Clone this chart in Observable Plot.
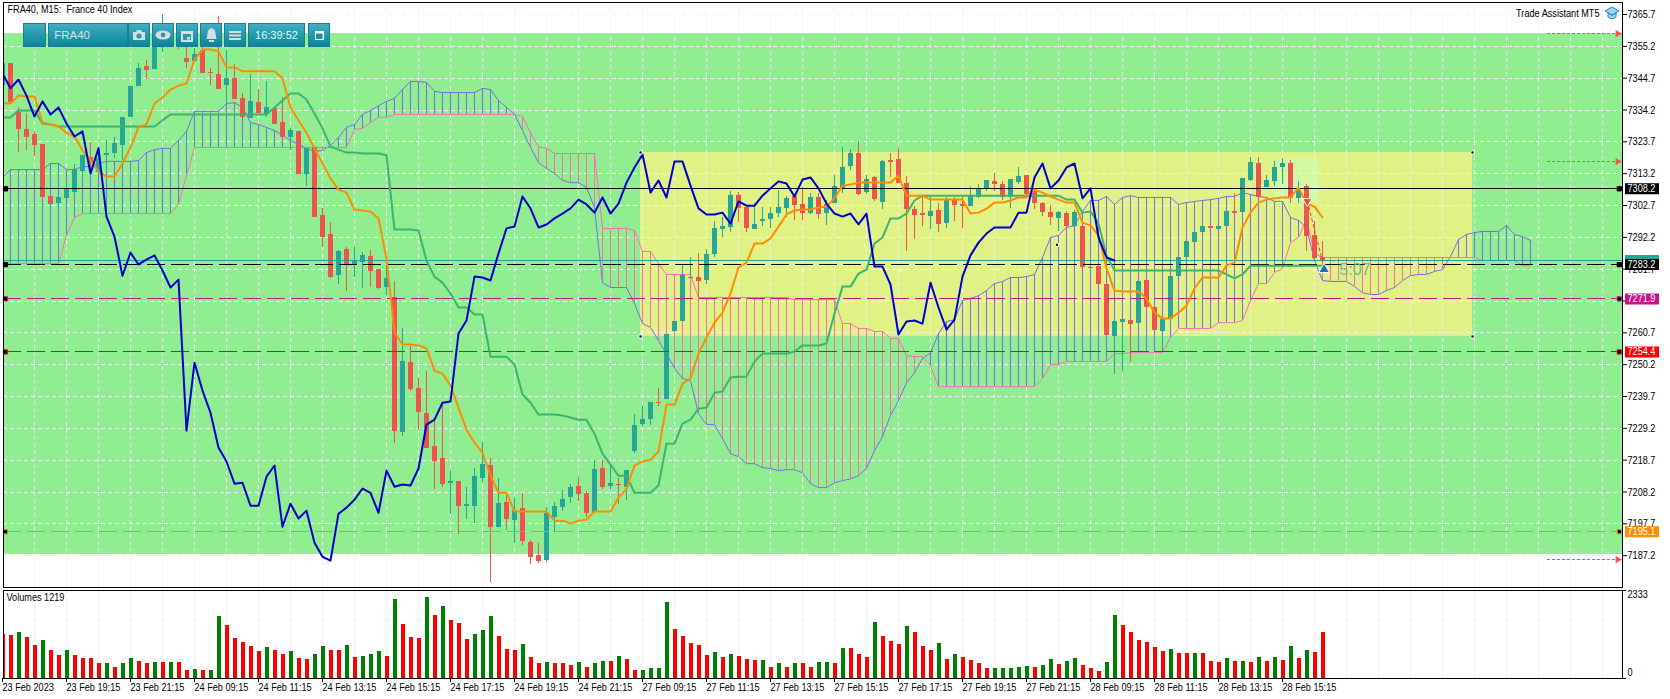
<!DOCTYPE html>
<html>
<head>
<meta charset="utf-8">
<script src="https://cdn.jsdelivr.net/npm/d3@7"></script>
<script src="https://cdn.jsdelivr.net/npm/@observablehq/plot@0.6"></script>
<style>
html,body{margin:0;padding:0;background:#fff;width:1670px;height:699px;overflow:hidden}
#main,#vol{position:absolute;left:0}
#main{top:0}#vol{top:589px}
svg{display:block}
#bar{position:absolute;left:23px;top:23px;width:308px;height:24px;font-family:"Liberation Sans",sans-serif;color:#dff}
#bar div{position:absolute;top:0;height:22px;background:linear-gradient(#3fb0c2,#0b8499);border:1px solid #1c7d92;display:flex;align-items:center;justify-content:center;box-sizing:content-box;font-size:11.5px}
#cap{position:absolute;left:1604px;top:6px}
</style>
</head>
<body>
<div id="main"></div>
<div id="vol"></div>
<div id="bar">
<div style="left:0;width:21px"></div>
<div style="left:25px;width:76px;justify-content:flex-start;padding-left:2px;color:#cfe8ea">&nbsp;FRA40</div>
<div style="left:105px;width:20px"><svg width="14" height="12"><path d="M1 3h3l1-2h4l1 2h3v8H1z" fill="#d5dfe0"/><circle cx="7" cy="7" r="2.6" fill="#2a9aac"/></svg></div>
<div style="left:129px;width:20px"><svg width="16" height="10"><ellipse cx="8" cy="5" rx="7.5" ry="4.5" fill="#d5dfe0"/><circle cx="8" cy="5" r="2.4" fill="#2a9aac"/></svg></div>
<div style="left:153px;width:20px"><svg width="12" height="13"><path d="M0 2h12v11H0z" fill="#d5dfe0"/><path d="M2 5h8v6H2z" fill="#2a9aac"/><path d="M6 8h3v2.500H6z" fill="#d5dfe0"/></svg></div>
<div style="left:177px;width:20px"><svg width="13" height="14"><path d="M6.500 0c3 1 4 3 4 6l1 5H1.500l1-5c0-3 1-5 4-6zM4 12h5v2H4z" fill="#d5dfe0"/></svg></div>
<div style="left:201px;width:20px"><svg width="12" height="9"><path d="M0 0h12v2H0zM0 3.500h12v2H0zM0 7h12v2H0z" fill="#d5dfe0"/></svg></div>
<div style="left:225px;width:55px;font-size:11px">16:39:52</div>
<div style="left:285px;width:20px"><svg width="9" height="9"><path d="M0 0h9v9H0z" fill="#fff"/><path d="M1 2.500h6.500V8H1z" fill="#1a8ea3"/></svg></div>
</div>
<svg id="cap" width="16" height="14"><path d="M8 1L15 5 8 9 1 5z" fill="#9fd4f0" stroke="#2a7fc0"/><path d="M4 7v4c2 2 6 2 8 0V7L8 9.500z" fill="#9fd4f0" stroke="#2a7fc0"/></svg>
<script>
const tickPrices=[7365.7,7355.2,7344.7,7334.2,7323.7,7313.2,7302.7,7292.2,7281.7,7271.2,7260.7,7250.2,7239.7,7229.2,7218.7,7208.2,7197.7,7187.2];
const axisBars=[0,8,16,24,32,40,48,56,64,72,80,88,96,104,112,120,128,136,144,152,160];
const axisLabels=["23 Feb 2023","23 Feb 19:15","23 Feb 21:15","24 Feb 09:15","24 Feb 11:15","24 Feb 13:15","24 Feb 15:15","24 Feb 17:15","24 Feb 19:15","24 Feb 21:15","27 Feb 09:15","27 Feb 11:15","27 Feb 13:15","27 Feb 15:15","27 Feb 17:15","27 Feb 19:15","27 Feb 21:15","28 Feb 09:15","28 Feb 11:15","28 Feb 13:15","28 Feb 15:15"];

const open=[7341.6,7348.9,7332.7,7327.1,7325.5,7322.2,7305,7302.7,7304.4,7306.3,
7313.3,7317.9,7312.9,7318.6,7319.2,7321.9,7331.1,7341.3,7347.9,7346.9,
7354.9,7358.5,7360.5,7350.6,7349.6,7353.2,7345.9,7345.3,7341.6,7344,
7337.4,7330.8,7336,7332.1,7334,7329.4,7324.5,7326.5,7312.3,7321.2,
7298.8,7292.5,7278.9,7287.5,7282.6,7283.2,7285.2,7280.9,7275,7271.7,
7227.1,7250.2,7241.7,7233.4,7222.5,7218.6,7210.3,7211,7202.7,7202.7,
7211.9,7216.3,7195.8,7204,7198.1,7202.1,7190.8,7186.5,7184.9,7199.1,
7202.4,7205.7,7209.3,7207,7200.7,7215.3,7209.3,7210,7209,7220.9,
7229.8,7231.4,7237,7238,7260.5,7263.8,7278,7278.3,7277.3,7285.9,
7294.1,7294.8,7305.3,7301.4,7294.1,7296.8,7297.4,7299.4,7301.1,7305,
7302.4,7299.4,7304.7,7299.4,7302.7,7307.7,7314.9,7319.2,7306.3,7311.3,
7303,7316.9,7317.2,7309.3,7300.7,7299.4,7298.4,7300.4,7296.1,7303.7,
7302.4,7301.7,7304.7,7307.3,7310,7309,7304.7,7309.6,7311.9,7307,
7302.7,7299.7,7297.8,7299.4,7295.1,7295.1,7281.3,7281.9,7276,7258.8,
7263.4,7264.1,7263.1,7277.3,7268.4,7260.5,7264.4,7278.6,7284.9,7289.8,
7293.1,7295.1,7294.1,7295.1,7300.1,7299.7,7310.3,7315.9,7308,7310,
7314.6,7315.9,7304.4,7308.3,7292.2,7284.9];
const close=[7348.9,7336,7327.1,7324.5,7321.9,7304.7,7302.4,7304.7,7307.3,7313.9,
7318.6,7315.9,7317.6,7319.2,7322.5,7331.1,7341.3,7347.3,7346.6,7354.5,
7358.8,7360.5,7356.5,7349.2,7351.9,7345.6,7345.6,7340.3,7344,7337,
7331.1,7336.4,7332.4,7334.4,7328.8,7324.5,7326.8,7312.3,7320.9,7298.1,
7291.5,7278.3,7286.9,7282.6,7283.6,7285.6,7280.3,7274.7,7278,7227.5,
7250.6,7241.3,7233.7,7221.9,7217.6,7210,7211,7202.7,7203.4,7212.6,
7216.6,7195.8,7203.7,7198.4,7201.4,7191.2,7185.9,7184.6,7200.4,7202.7,
7205,7209,7206.7,7200.4,7214.9,7209,7210.3,7209.7,7214.6,7229.4,
7231.4,7237,7236.7,7259.5,7263.8,7278.9,7278.3,7276.9,7285.9,7294.5,
7295.1,7305.3,7301.1,7294.5,7295.8,7297.4,7299.4,7301.4,7304.4,7302,
7299.4,7304.7,7299.1,7302.4,7308.3,7314.6,7319.2,7305.7,7310.6,7304,
7316.6,7316.2,7309.3,7300.7,7298.8,7298.8,7300.1,7295.8,7303.7,7302,
7301.7,7305,7307.3,7310.3,7309,7304.7,7310.6,7311.6,7305.7,7302.7,
7299.7,7298.1,7299.7,7295.1,7299.7,7281.6,7281.6,7276,7259.2,7263.8,
7264.4,7262.8,7276.9,7268.4,7260.8,7264.4,7278.6,7284.9,7290.2,7293.1,
7295.1,7294.5,7295.1,7300.1,7299.4,7311,7316.2,7304.7,7310.3,7314.6,
7315.9,7304.4,7307,7291.8,7284.6,7283.6];
const high=[7349.9,7348.9,7334.4,7332.4,7326.5,7322.2,7305,7304.7,7309.6,7315.6,
7318.6,7322.8,7321.2,7323.5,7324.5,7331.1,7341.3,7348.9,7349.9,7354.5,
7365.1,7360.5,7361.1,7354.5,7353.9,7354.2,7347.3,7364.4,7353.2,7348.6,
7339,7345.3,7340.3,7343,7334.4,7337.7,7327.5,7326.5,7320.9,7321.2,
7301.1,7296.4,7287.2,7288.2,7288.2,7286.5,7287.2,7280.9,7282.2,7276.9,
7261.5,7255.5,7245,7247.3,7230.8,7236.7,7214.3,7211,7209,7215.3,
7223.8,7218.6,7211.9,7207,7205.4,7207,7191.5,7190.5,7202.4,7204,
7208,7210,7212.3,7207.7,7217.9,7217.9,7215.9,7211.9,7214.6,7233.1,
7235.7,7237,7241.7,7259.5,7263.8,7282.2,7284.9,7286.2,7287.5,7296.8,
7298.1,7306.7,7306.3,7301.4,7302.7,7301.4,7301.4,7307,7305,7305.7,
7308,7306,7306,7303.7,7311.9,7321.2,7320.5,7323.2,7311.9,7311.6,
7316.9,7319.2,7320.9,7311.6,7301.7,7304.7,7305,7302.7,7304.7,7304.7,
7304.7,7308.3,7309,7310.3,7312.6,7310,7310.6,7314.6,7311.9,7307.7,
7303,7302,7300.1,7300.1,7300.4,7295.1,7281.6,7281.9,7276,7263.8,
7264.4,7264.1,7276.9,7277.3,7268.4,7264.4,7278.6,7284.9,7290.2,7293.1,
7295.1,7295.1,7295.1,7300.1,7306,7311,7317.9,7317.9,7311.9,7316.6,
7317.6,7316.9,7310,7309,7296.8,7290.2];
const low=[7341.6,7336,7319.5,7320.2,7318.2,7304.7,7302.4,7302.7,7304.4,7306.3,
7310.3,7312.6,7312,7313.6,7317.6,7316.9,7331.1,7341.3,7343.6,7346.9,
7352.5,7358.5,7353.5,7347.3,7349.2,7345.6,7341.6,7340.3,7335.7,7337,
7331.1,7330.8,7332.4,7331.1,7328.8,7324.5,7320.2,7312.3,7308.3,7298.1,
7288.2,7278,7276,7273.7,7278.3,7274.7,7275,7274.3,7272.3,7223.5,
7225.8,7240.7,7227.8,7221.9,7208.3,7209,7200.1,7193.5,7198.4,7197.1,
7210.6,7177.6,7195.8,7194.8,7190.5,7189.9,7183.6,7183.9,7184.2,7194.1,
7201.1,7203.7,7204.4,7199.1,7200.4,7208.3,7208.3,7203.4,7204.7,7220.2,
7229.1,7229.4,7235.7,7238,7260.5,7263.8,7278,7271.7,7276,7284.9,
7291.5,7293.1,7296.4,7293.1,7294.1,7295.1,7294.5,7298.1,7298.1,7297.1,
7297.1,7299.1,7297.4,7295.4,7302.7,7306,7313.6,7305.3,7305.7,7303.4,
7300.7,7311.3,7309.3,7286.9,7290.8,7295.1,7294.1,7293.1,7294.5,7296.8,
7294.5,7301.7,7304.4,7306.7,7306.7,7303.7,7301.1,7309,7304.4,7300.7,
7298.4,7295.4,7293.4,7294.8,7294.8,7281.6,7281.3,7276,7259.2,7246.3,
7247.3,7250.2,7263.1,7268.4,7260.8,7254.2,7264.4,7278.6,7284.9,7289.8,
7293.1,7294.5,7294.1,7295.1,7299.4,7299.7,7310,7303.7,7308,7308.3,
7309,7302.7,7302.7,7286.9,7284.6,7282.9];

const tenkan=[7335.7,7335.7,7338.3,7338,7338,7329.4,7328.8,7328.1,7326.1,7324.8,
7320.2,7316.9,7313.3,7311.6,7311.6,7315.9,7321.2,7327.8,7328.8,7335.7,
7337.7,7340.3,7341.6,7342.3,7350.2,7353.5,7353.5,7352.9,7347.6,7347.6,
7346.3,7346.3,7346.3,7346.3,7346.3,7344,7334.4,7330.1,7326.1,7320.9,
7315.9,7311,7307.3,7306.3,7300.7,7300.4,7300.1,7297.8,7284.6,7260.1,
7256.2,7256.2,7255.9,7254.9,7247.6,7246.6,7242.7,7235.4,7228.1,7223.8,
7220.5,7212.9,7207.3,7207.3,7201.1,7201.1,7201.1,7201.1,7201.1,7198.1,
7198.1,7197.1,7198.1,7198.4,7201.1,7201.1,7201.1,7205.7,7208.6,7216.3,
7217.6,7218.2,7220.9,7236.4,7236.4,7243.3,7245,7253.2,7258.5,7263.4,
7266.7,7273,7281.6,7283.2,7289.5,7289.5,7291.2,7295.1,7299.1,7300.4,
7300.7,7300.7,7301.4,7301.7,7304.4,7308.6,7309,7309.6,7309.6,7309.6,
7309.6,7309.6,7311.9,7305.3,7305.3,7305.3,7304,7304,7304,7304,
7304,7299.4,7299.7,7301,7303,7303,7303.7,7304.7,7304.7,7307.3,
7306.3,7305,7304,7303,7303,7296.4,7295.4,7292.2,7281.3,7274,
7273.7,7273.7,7273.7,7271.4,7266.7,7264.8,7264.8,7266.7,7269,7274.7,
7278.3,7278.3,7278.3,7282.2,7283.2,7294.8,7299.7,7303,7304,7304.4,
7304.7,7304.7,7308,7302.7,7301.7,7298.1];
const kijun=[7331.1,7331.1,7333.4,7333.4,7333.4,7329.1,7328.8,7328.1,7328.1,7328.1,
7328.1,7328.1,7328.1,7328.1,7328.1,7328.1,7328.1,7328.1,7328.1,7328.1,
7330.1,7332.1,7332.1,7332.1,7332.1,7332.1,7332.1,7332.1,7332.1,7332.1,
7332.1,7332.1,7332.1,7332.1,7334.4,7336.7,7339,7339,7337,7332.4,
7327.5,7321.5,7320.5,7319.5,7319.5,7319.2,7319.2,7319.2,7318.6,7294.1,
7294.1,7294.1,7293.8,7283.9,7278.6,7276.6,7273,7268.4,7268.4,7266.1,
7266.1,7252.2,7252.2,7252.2,7249.6,7239.7,7237,7233.1,7233.1,7233.1,
7232.8,7232.1,7231.4,7231.4,7226.8,7220.2,7216.6,7212.9,7212.9,7207.3,
7207.3,7207.3,7209.7,7223.5,7223.5,7230.1,7231.4,7235,7235.4,7240.3,
7240.7,7245.3,7245.6,7245.6,7250.6,7253.2,7253.2,7253.2,7253.2,7253.9,
7255.9,7255.9,7255.9,7256.5,7266.4,7275.3,7275.3,7279.6,7280.9,7289.5,
7291.5,7297.8,7297.8,7299.4,7303.7,7305.3,7305.3,7305.3,7305.3,7305.3,
7305.3,7305.3,7305.3,7305.3,7305.3,7305.3,7305.3,7305.3,7305.3,7305.3,
7305.3,7305.3,7305.3,7304,7304,7299.7,7300.1,7296.1,7285.6,7280.6,
7280.6,7280.6,7280.6,7280.6,7280.6,7280.6,7280.6,7280.6,7280.6,7280.6,
7280.6,7280.6,7280.6,7279.3,7278,7279.3,7282.2,7282.2,7282.2,7282.2,
7282.2,7282.2,7282.2,7282.2,7282.2,7282.2];
const chikou=[7345.6,7340.7,7343.6,7338.3,7331.4,7336.4,7332.1,7334.4,7329.1,7324.8,
7326.5,7312.6,7320.9,7298.4,7291.8,7278.9,7286.5,7282.6,7284.2,7285.6,
7280.6,7275,7277.6,7227.8,7250.2,7241,7233.7,7222.2,7217.6,7210.3,
7210.6,7203,7203,7212.6,7216.3,7196.1,7203.7,7198.8,7201.4,7190.8,
7186.2,7184.9,7200.4,7202.4,7205,7208.7,7207.3,7200.7,7214.6,7209.3,
7210,7209.7,7215.3,7229.8,7231.4,7237,7237.4,7259.8,7264.1,7278.6,
7278.3,7277.3,7286.2,7294.5,7295.1,7305,7301.1,7294.8,7295.8,7297.8,
7299.4,7301.1,7304,7302.4,7299.7,7304.7,7299.4,7302.7,7309.6,7314.6,
7318.9,7306.3,7310.3,7304.7,7316.6,7316.6,7308.6,7301.1,7299.1,7299.1,
7299.7,7296.1,7303.4,7302,7302,7305.3,7307.7,7310,7309.3,7305,
7310.6,7311.3,7307.7,7302.7,7299.4,7298.4,7299.4,7295.8,7299.4,7281.9,
7281.9,7276,7259.5,7263.8,7264.1,7263.1,7276.6,7268.4,7261.1,7264.4,
7278.6,7285.6,7289.8,7292.8,7294.8,7294.8,7294.8,7299.7,7299.7,7311.3,
7315.9,7307.7,7310.3,7314.6,7315.9,7304.4,7307.7,7291.5,7284.9,7283.9];
const spanA=[7311.3,7313.9,7313.9,7313.9,7313.9,7313.9,7315.9,7315.9,7313.9,7313.9,
7314.9,7314.9,7315.9,7316.6,7316.6,7316.6,7316.6,7316.9,7319.5,7320.5,
7320.9,7320.9,7323.5,7326.5,7333.1,7333.1,7333.1,7333.1,7335.7,7336,
7334.4,7329.4,7328.8,7327.8,7326.8,7325.2,7323.5,7322.2,7320.9,7319.9,
7320.2,7321.9,7324.5,7327.8,7328.8,7332.1,7333.4,7335,7336.4,7337.4,
7340.3,7343,7343,7342.6,7339.7,7339.3,7339.3,7339.3,7339.3,7339.3,
7340.7,7340.3,7336.7,7334.4,7332.1,7326.8,7321.2,7316.2,7314.3,7312.6,
7310.3,7309.6,7309.6,7308,7301.4,7276.6,7275,7275,7275,7269.7,
7263.1,7261.8,7257.5,7253.2,7248.3,7245,7244.3,7233.4,7229.8,7229.8,
7225.2,7220.2,7219.2,7216.9,7216.9,7215.6,7215.3,7214.6,7214.9,7214.9,
7213.9,7210.3,7209,7209,7210.6,7211.3,7211.9,7212.9,7215.3,7221.2,
7225.8,7232.8,7237.7,7243.6,7246.9,7251.6,7253.5,7259.8,7263.8,7264.4,
7270.7,7271.4,7272.3,7274,7276.3,7277,7278.3,7278.3,7278.6,7279.3,
7284.9,7291.5,7292.2,7294.8,7295.4,7300.1,7303.7,7303.7,7305,7302.4,
7304.7,7305.3,7304.7,7304.7,7304.7,7304.7,7304.7,7302.4,7303,7303.4,
7303.7,7304,7304.4,7305,7305,7306.3,7305.7,7305,7304.7,7303.4,
7303.4,7298.1,7297.1,7294.8,7283.9,7277.3,7277,7277,7277,7275.3,
7273.3,7272.7,7272.7,7274,7275,7277.3,7278.9,7279.3,7279.3,7280.3,
7280.9,7285.2,7290.8,7292.5,7293.1,7293.5,7293.5,7293.5,7295.4,7292.5,
7291.8,7290.5];
const spanB=[7282.9,7282.9,7282.9,7282.9,7282.9,7282.9,7282.9,7282.9,7292.2,7298.1,
7299.4,7299.4,7299.4,7299.4,7299.4,7299.4,7299.4,7299.4,7299.4,7299.4,
7299.4,7299.4,7302.4,7311.9,7321.2,7321.2,7321.2,7321.2,7321.2,7321.2,
7321.2,7321.2,7321.2,7321.2,7321.2,7321.2,7321.2,7321.2,7321.2,7321.2,
7321.2,7321.2,7321.2,7321.2,7327.1,7327.5,7329.4,7331.1,7331.1,7332.1,
7332.1,7332.1,7332.1,7332.1,7332.1,7332.1,7332.1,7332.1,7332.1,7332.1,
7332.1,7332.1,7332.1,7332.1,7332.1,7331.4,7326.1,7321.5,7320.9,7319.2,
7319.2,7319.2,7319.2,7319.2,7319.2,7294.5,7294.5,7294.5,7294.5,7293.8,
7286.9,7286.9,7282.9,7279.3,7279.3,7279.3,7279.3,7271.7,7271.7,7271.7,
7271.7,7271.7,7271.7,7271.7,7271.7,7271.7,7271.7,7271.7,7271.7,7271,
7271,7271,7271,7271,7271,7263.1,7263.1,7261.5,7261.5,7260.5,
7260.5,7258.2,7258.2,7252.5,7252.2,7252.2,7249.2,7242.3,7242.3,7242.3,
7242.3,7242.3,7242.3,7242.3,7242.3,7242.3,7242.3,7242.3,7242.3,7242.3,
7244.9,7249.6,7249.6,7250.6,7250.6,7250.6,7250.6,7250.6,7250.6,7253.2,
7253.2,7253.5,7253.5,7253.5,7253.5,7253.5,7258.5,7261.5,7261.5,7261.5,
7261.5,7261.5,7263.4,7263.4,7263.4,7264.1,7270.7,7276.3,7276.3,7279.9,
7281.3,7289.8,7291.5,7297.4,7286.2,7284.9,7284.9,7284.9,7284.9,7284.9,
7284.9,7284.9,7284.9,7284.9,7284.9,7284.9,7284.9,7284.9,7284.9,7284.9,
7284.9,7284.9,7284.9,7284.9,7284.9,7283.9,7283.9,7283.9,7283.9,7283.9,
7282.2,7282.2];
const volumes=[1167,1140,1220,1087,875,1008,743,610,743,610,530,530,398,398,292,398,530,451,398,424,424,424,424,212,239,212,212,1644,1406,1061,955,849,716,822,743,636,716,530,504,636,849,743,743,875,557,583,636,716,583,2095,1432,1087,1061,2148,1671,1909,1538,1459,1034,1167,1273,1644,1114,769,743,902,557,398,424,398,398,345,424,292,398,451,451,583,504,212,212,265,265,2016,1299,1114,928,875,
610,690,557,636,583,504,477,477,292,398,292,398,398,292,424,424,398,796,796,636,557,1485,1114,981,902,1379,1220,849,743,928,504,636,557,477,398,265,265,265,265,292,318,292,345,504,371,451,530,345,265,186,424,1671,1406,1220,1008,955,822,716,769,663,663,663,663,451,424,530,451,451,424,557,451,557,477,849,530,743,690,1219];
const volumeUp=[0,0,1,0,0,1,0,0,1,0,0,0,0,1,0,1,1,0,0,1,0,1,0,0,1,0,1,1,0,0,0,0,0,1,0,0,1,0,0,1,1,0,0,1,0,1,1,1,0,1,0,0,0,1,0,1,0,0,0,1,1,1,0,0,0,1,0,0,1,0,0,0,1,0,1,1,0,1,0,0,1,1,1,1,0,0,0,0,
0,1,0,1,0,0,0,1,0,1,0,1,0,0,1,1,0,1,0,0,0,1,0,0,0,1,0,0,0,1,0,1,0,0,0,0,1,1,1,1,1,0,1,1,0,1,1,0,0,0,1,1,0,0,0,0,0,0,1,0,0,1,0,0,0,1,0,1,0,1,0,1,0,1,0,1];
const priceLines=[
 {label:"7308.2",price:7308.2,color:"#000000"},
 {label:"7283.2",price:7283.2,color:"#000000"},
 {label:"7271.9",price:7271.9,color:"#c71585"},
 {label:"7254.4",price:7254.4,color:"#ff0000"},
 {label:"7195.1",price:7195.1,color:"#ff8c00"}
];
const bidPrice=7284.6;
const arrowPrices=[7359.4,7317.2,7185.9];
const greenBand=[7359.4,7187.6];
const yellowBox={x1:79.75,x2:183.75,y1:7320.2,y2:7259.5};
const lightBox={x1:159,x2:164.6,y1:7317.9,y2:7304};
const boxAnchors=[[79.75,7320.2],[79.75,7259.5],[183.75,7320.2],[183.75,7259.5],[131.8,7289.75]];
const signalSell={i:163.1,p:7304.1}, signalBuy={i:165.2,p:7281.6}, lastClose={i:165,p:7284.3};
// The candle and indicator readings above were taken against the grid with a constant 0.65 point bias.
const readingBias=0.65;

const FONT="'Liberation Sans',sans-serif";
const TEAL="#26a69a",RED="#ef5350",PURPLE="#7b68ee",PINK="#ff69b4";
const XDOM=[0.125,202.5];
const TAG1=202.875,TAG2=207.125;
const clip={clip:"frame"};
const cal=v=>v+readingBias;
const bars=open.map((o,i)=>({i,o:cal(o),c:cal(close[i]),h:cal(high[i]),l:cal(low[i])}));
const up=bars.filter(d=>d.c>=d.o),dn=bars.filter(d=>d.c<d.o);
const series=a=>a.map((v,i)=>({i,v:cal(v)}));
const cloud=spanA.map((a,i)=>({i,a:cal(a),b:cal(spanB[i])}));
const gridBars=d3.range(4,204,4);
const candle=(rows,color)=>[
 Plot.ruleX(rows,{x:"i",y1:"l",y2:"h",stroke:color,strokeWidth:1,shapeRendering:"crispEdges",...clip}),
 Plot.ruleX(rows,{x:"i",y1:"o",y2:"c",stroke:color,strokeWidth:5,shapeRendering:"crispEdges",...clip})
];
const narrow=svg=>svg.querySelectorAll("text").forEach(t=>{
  if(t.textContent.trim()==="5:07")return;
  const n=t.getComputedTextLength();
  if(n>0){t.setAttribute("textLength",(n*0.83).toFixed(1));t.setAttribute("lengthAdjust","spacingAndGlyphs");}
});
const main=Plot.plot({
 width:1670,height:589,marginLeft:3,marginRight:48,marginTop:2,marginBottom:2,
 x:{domain:XDOM,axis:null},
 y:{domain:[7176.7,7369.66],axis:null},
 style:{fontFamily:FONT,fontSize:"11px",background:"transparent",overflow:"visible",color:"#000"},
 marks:[
  Plot.rect([0],{x1:()=>XDOM[0],x2:()=>XDOM[1],y1:()=>greenBand[0],y2:()=>greenBand[1],fill:"#90ee90"}),
  Plot.rect([yellowBox],{x1:"x1",x2:"x2",y1:"y1",y2:"y2",fill:"#e0f285"}),
  Plot.rect([lightBox],{x1:"x1",x2:"x2",y1:"y1",y2:"y2",fill:"#d2f9a4"}),
  Plot.ruleX(gridBars,{stroke:"#f1f1f1",strokeDasharray:"4,3",strokeWidth:1,shapeRendering:"crispEdges"}),
  Plot.ruleY(tickPrices,{stroke:"#f1f1f1",strokeDasharray:"4,3",strokeWidth:1,shapeRendering:"crispEdges"}),
  Plot.ruleX(cloud.filter(d=>d.a>=d.b),{x:"i",y1:"a",y2:"b",stroke:PURPLE,strokeWidth:1,shapeRendering:"crispEdges",...clip}),
  Plot.ruleX(cloud.filter(d=>d.a<d.b),{x:"i",y1:"a",y2:"b",stroke:PINK,strokeWidth:1,shapeRendering:"crispEdges",...clip}),
  Plot.line(series(spanA),{x:"i",y:"v",stroke:PURPLE,strokeWidth:1,...clip}),
  Plot.line(series(spanB),{x:"i",y:"v",stroke:PINK,strokeWidth:1,...clip}),
  ...candle(up,TEAL),...candle(dn,RED),
  Plot.ruleY([bidPrice],{stroke:"#20a0a0",strokeWidth:1,shapeRendering:"crispEdges"}),
  Plot.ruleY(priceLines.slice(0,1),{y:"price",stroke:"color",strokeWidth:1,shapeRendering:"crispEdges"}),
  Plot.ruleY(priceLines.slice(1),{y:"price",stroke:"color",strokeDasharray:"18,6",strokeWidth:1,shapeRendering:"crispEdges"}),
  Plot.line(series(kijun),{x:"i",y:"v",stroke:"#3cb371",strokeWidth:2,...clip}),
  Plot.line(series(tenkan),{x:"i",y:"v",stroke:"#ff8c00",strokeWidth:2,...clip}),
  Plot.line(series(chikou),{x:"i",y:"v",stroke:"#0000cd",strokeWidth:2,...clip}),
  Plot.line([{i:signalSell.i,v:signalSell.p},{i:lastClose.i,v:lastClose.p}],{x:"i",y:"v",stroke:"#ff3b30",strokeWidth:1,strokeDasharray:"3,3"}),
  Plot.dot([signalSell],{x:"i",y:"p",symbol:"triangle",rotate:180,r:3.4,fill:"#e8492a",stroke:"#fff",strokeWidth:1}),
  Plot.dot([signalBuy],{x:"i",y:"p",symbol:"triangle",r:4,fill:"#1f6fb8",stroke:"#fff",strokeWidth:1}),
  Plot.text(["5:07"],{x:()=>167.1,y:()=>signalBuy.p,textAnchor:"start",fontSize:16,fill:"#63bf86"}),
  Plot.ruleY(arrowPrices,{x1:()=>193.1,x2:()=>202,stroke:"#ff4d4d",strokeDasharray:"3,2",strokeWidth:1,shapeRendering:"crispEdges"}),
  Plot.dot(arrowPrices,{x:()=>201.9,y:d=>d,symbol:"triangle",rotate:90,r:2.7,fill:"#ff4d4d"}),
  Plot.dot(boxAnchors,{x:d=>d[0],y:d=>d[1],symbol:"square",r:1.8,fill:"#000",stroke:"#fff",strokeWidth:1}),
  Plot.dot(priceLines,{x:()=>0.375,y:"price",symbol:"square",r:2.4,fill:"#000",stroke:"color",strokeWidth:1}),
  Plot.dot(priceLines,{x:()=>202.1,y:"price",symbol:"square",r:2.4,fill:"#000",stroke:"color",strokeWidth:1}),
  Plot.axisY({anchor:"right",ticks:tickPrices,tickFormat:d=>d===7271.2?"":d.toFixed(1),tickSize:4,tickPadding:1,label:null,fontSize:11}),
  Plot.ruleY([bidPrice],{x1:()=>TAG1,x2:()=>TAG2,stroke:"#26a69a",strokeWidth:11}),
  Plot.ruleY(priceLines.slice().reverse(),{x1:()=>TAG1,x2:()=>TAG2,y:"price",stroke:"color",strokeWidth:11}),
  Plot.text(priceLines,{x:()=>TAG1,y:"price",text:"label",textAnchor:"start",dx:2,fill:"#fff",fontSize:11}),
  Plot.text(["FRA40, M15:  France 40 Index"],{frameAnchor:"top-left",dx:4,dy:3,fontSize:11,fill:"#000"}),
  Plot.text(["Trade Assistant MT5"],{frameAnchor:"top-right",dx:-23,dy:7,fontSize:11,fill:"#000"}),
  Plot.frame({stroke:"#000",strokeWidth:1})
 ]
});
document.getElementById("main").append(main);
narrow(main);

const volRows=volumes.map((v,i)=>({i,v,u:volumeUp[i]}));
const vol=Plot.plot({
 width:1670,height:110,marginLeft:3,marginRight:48,marginTop:1,marginBottom:21,
 x:{domain:XDOM,axis:null},
 y:{domain:[0,2333],axis:null},
 style:{fontFamily:FONT,fontSize:"11px",background:"transparent",overflow:"visible",color:"#000"},
 marks:[
  Plot.ruleX(gridBars,{stroke:"#ececec",strokeDasharray:"4,3",strokeWidth:1,shapeRendering:"crispEdges"}),
  Plot.ruleX(volRows.filter(d=>d.u),{x:"i",y1:0,y2:"v",stroke:"#008000",strokeWidth:4,shapeRendering:"crispEdges",...clip}),
  Plot.ruleX(volRows.filter(d=>!d.u),{x:"i",y1:0,y2:"v",stroke:"#ff0000",strokeWidth:4,shapeRendering:"crispEdges",...clip}),
  Plot.axisX({anchor:"bottom",ticks:axisBars,tickFormat:d=>axisLabels[axisBars.indexOf(d)],tickSize:4,tickPadding:1,textAnchor:"start",label:null,fontSize:11}),
  Plot.axisY({anchor:"right",ticks:[0,2333],tickFormat:()=>"",tickSize:3,label:null}),
  Plot.text(["2333"],{frameAnchor:"top-right",dx:5,dy:0,fontSize:11,textAnchor:"start",fill:"#000"}),
  Plot.text(["0"],{frameAnchor:"bottom-right",dx:5,dy:-3,fontSize:11,textAnchor:"start",fill:"#000"}),
  Plot.text(["Volumes 1219"],{frameAnchor:"top-left",dx:3,dy:3,fontSize:11,fill:"#000"}),
  Plot.frame({stroke:"#000",strokeWidth:1})
 ]
});
document.getElementById("vol").append(vol);
narrow(vol);
</script>
</body>
</html>
